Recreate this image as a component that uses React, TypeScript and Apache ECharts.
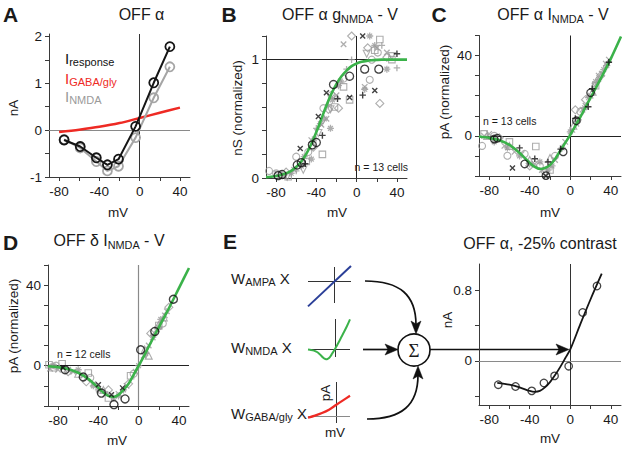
import React, { useEffect, useRef } from 'react';
import * as echarts from 'echarts';

const FONT = '"Liberation Sans", Arial, Helvetica, sans-serif';
const SERIF = '"Liberation Serif", "DejaVu Serif", serif';
const INK = '#1a1a1a';
const AX = '#3a3a3a';
const GRAY = '#9a9a9a';
const GREEN = '#3bb24a';
const RED = '#ee2a24';
const BLUE = '#2b3f98';

// ---------- Panel A: OFF alpha I-V ----------
const aVolt = [-75, -59, -43, -32, -21, -4, 14, 30];
const aResponse = [-0.21, -0.35, -0.59, -0.74, -0.62, 0.08, 1.01, 1.78];
const aNmda = [-0.2, -0.38, -0.67, -0.87, -0.77, -0.16, 0.69, 1.35];
const aGabaVolt = [-80, -60, -40, -20, 0, 20, 40];
const aGaba = [-0.04, 0.01, 0.07, 0.15, 0.26, 0.37, 0.48];

// ---------- Panel B: g_NMDA - V ----------
const bFitVolt = [-90, -85, -80, -75, -70, -65, -60, -55, -50, -45, -40, -35, -30, -25, -20, -15, -10, -5, 0, 5, 10, 15, 20, 25, 30, 35, 40, 45, 50];
const bFit = [0.007, 0.01, 0.017, 0.026, 0.04, 0.061, 0.093, 0.14, 0.204, 0.287, 0.388, 0.5, 0.612, 0.713, 0.796, 0.86, 0.907, 0.945, 0.968, 0.982, 0.99, 0.995, 0.998, 1, 1, 1, 1, 1, 1];
const bBlackCircle = [[-78, 0.02], [-74, 0.03], [-59, 0.11], [-55, 0.13], [-44, 0.28], [-40, 0.3], [-23, 0.79], [-7, 0.86], [8, 0.92], [22, 0.92]];
const bBlackX = [[-56, 0.25], [-38, 0.52], [-30, 0.72], [-7, 0.68], [6, 1.2], [18, 0.74]];
const bBlackPlus = [[-51, 0.12], [-34, 0.36], [-19, 0.67], [6, 0.7], [40, 1.05]];
const bGrayCircle = [[-87, 0.06], [-80, 0.04], [-60, 0.18], [-48, 0.22], [-33, 0.59], [-13, 0.84], [13, 0.83], [21, 1.06], [15, 1.0], [-25, 0.7]];
const bGrayDiamond = [[-5, 1.2], [23, 0.63], [-18, 0.59], [11, 1.1], [-43, 0.26], [-28, 0.58], [-70, 0.05], [30, 1.02]];
const bGraySquare = [[-34, 0.2], [23, 1.17], [-7, 0.66], [-68, 0.01], [-13, 0.77], [-50, 0.14], [-22, 0.6], [18, 1.08], [35, 1.0]];
const bGrayTriangle = [[-69, 0.01], [35, 1.03], [-53, 0.07], [-26, 0.58], [-78, 0.03], [-38, 0.38], [10, 1.05]];
const bGrayX = [[-13, 1.13], [30, 1.06], [8, 0.77], [-72, 0.02], [-45, 0.32], [-30, 0.5], [-20, 0.7], [20, 1.1], [-62, 0.07], [-35, 0.45], [-25, 0.68]];
const bGrayPlus = [[-5, 1.0], [40, 0.93], [-10, 0.92], [-60, 0.06], [-40, 0.42], [-28, 0.62], [25, 1.12]];
const bGrayStar = [[13, 1.2], [30, 0.92], [-26, 0.42], [-45, 0.16], [-36, 0.46], [-18, 0.78], [-65, 0.04], [8, 0.75], [18, 1.12], [-52, 0.18], [-55, 0.1], [-42, 0.33], [-32, 0.5], [-24, 0.66], [-16, 0.82]];

// ---------- Panel C: OFF alpha I_NMDA - V ----------
const cFitVolt = [-90, -80, -70, -60, -50, -45, -40, -35, -30, -25, -20, -15, -10, -5, 0, 5, 10, 20, 30, 40, 50];
const cFit = [-0.3, -1, -2.2, -4.5, -8.5, -11, -13.5, -15.5, -16.5, -16, -14.5, -11.5, -7.5, -3.5, 0.5, 5, 9.5, 19, 28.5, 38.5, 49.5];
const cBlackCircle = [[-72, -1.2], [-75, -1.6], [-45, -14], [-24, -19.8], [-7, -8], [6, 7.5], [20, 21.5]];
const cBlackPlus = [[-50, -6], [-35, -11.4], [-22, -13], [-9.5, -6.6], [5, 8.7], [17.7, 14.5], [21.6, 23.5], [38, 36.7]];
const cBlackX = [[-57, -16], [-24, -20]];
const cGrayCircle = [[-87, -5], [-62, -9.9], [-75, 0], [-45, -9], [-30, -15], [-15, -10], [10, 12]];
const cGraySquare = [[-34, -5.3], [-85, 1], [-60, -3], [-20, -17], [25, 25]];
const cGrayDiamond = [[5, 13], [-40, -15], [-25, -18], [-70, -1], [15, 18], [30, 30]];
const cGrayX = [[-80, 1], [-55, -8], [-35, -14], [-15, -12], [-5, -3], [12, 13], [28, 30], [35, 36], [-65, -5], [2, 3], [6, 6], [15, 15], [20, 20], [24, 25], [31, 31], [38, 38], [-85, 0], [-70, -2], [-48, -9], [-28, -17]];
const cGrayStar = [[-50, -10], [-30, -13], [-18, -15], [0, 2], [18, 19], [25, 27], [33, 33], [-75, -3], [8, 8], [-22, -17], [-40, -14], [-62, -6], [14, 14], [28, 28], [36, 35], [-8, -6]];
const cGrayTriangle = [[-60, -5], [-40, -12], [-20, -11], [3, 5], [22, 22], [-82, 0]];

// ---------- Panel D: OFF delta I_NMDA - V ----------
const dFitVolt = [-90, -80, -70, -60, -50, -45, -40, -35, -30, -25, -20, -15, -10, -5, 0, 5, 10, 20, 30, 40, 50];
const dFit = [-0.3, -0.7, -1.6, -3.5, -6.5, -8.7, -11, -13.3, -15, -15.5, -14.5, -12, -9, -4.5, 0, 4.5, 9.5, 19, 28.5, 38.5, 48.5];
const dBlackCircle = [[-73, -2], [-55, -5.6], [-37, -13.6], [-24.5, -19.3], [-13.5, -16.5], [2, 7.9], [16, 17], [34.5, 33]];
const dBlackX = [[-40, -9.4], [-27, -14.4], [-16, -11], [-75, -1]];
const dGraySquare = [[-89, 0.5], [-76, 1], [-50, -3.6], [-30, -16], [-8, -5], [20, 20], [-85, -1]];
const dGrayTriangle = [[6, 8], [19.5, 20], [-35, -12], [25, 24], [-60, -4], [10, 5]];
const dGrayX = [[-88, -1.5], [-65, -3], [-45, -9], [-20, -14], [-3, -3], [14, 14], [28, 27], [-80, -2], [5, 5], [10, 10], [18, 18], [26, 25], [-70, -2], [-55, -5], [-33, -14], [-12, -10]];
const dGrayDiamond = [[-70, -3], [-52, -8], [-30, -12], [12, 16], [30, 29], [-10, -9]];
const dGrayStar = [[-40, -12], [-25, -16], [-15, -12], [0, 0], [15, 15], [22, 23], [-60, -2], [7, 6], [20, 19], [-45, -10], [-20, -15], [-85, 0]];
const dGrayCircle = [[-82, 0], [-48, -6], [-5, -4], [24, 21]];

// ---------- Panel E ----------
const eFitVolt = [-72, -60, -50, -40, -35, -30, -25, -20, -15, -10, -5, 0, 10, 20, 31];
const eFit = [-0.25, -0.27, -0.3, -0.34, -0.35, -0.34, -0.3, -0.24, -0.16, -0.07, 0.03, 0.13, 0.42, 0.7, 0.99];
const eCellVolt = [-71, -54, -38, -26, -15.5, -1.6, 12.2, 26.3];
const eCell = [-0.27, -0.29, -0.34, -0.25, -0.17, -0.06, 0.55, 0.85];
const ampaVolt = [-62, 38];
const ampaCur = [-52, 32];

// tick / label values
const voltTicks = [-80, -60, -40, -20, 0, 20, 40];
const voltLabels = [-80, -40, 0, 40];
const aTicks = [-1, -0.5, 0, 0.5, 1, 1.5, 2];
const aLabels = [-1, 0, 1, 2];
const bTicks = [0, 0.2, 0.4, 0.6, 0.8, 1, 1.2];
const bLabels = [0, 1];
const pATicks = [-20, -10, 0, 10, 20, 30, 40, 50];
const pALabels = [0, 40];
const eTicks = [-0.4, 0, 0.4, 0.8];
const eLabels = [0, 0.8];

const pts = (xs: number[], ys: number[]) => xs.map((x, i) => [x, ys[i]]);

const X_PATH = 'path://M0,0L10,10M0,10L10,0';
const PLUS_PATH = 'path://M5,0L5,10M0,5L10,5';
const STAR_PATH = 'path://M5,0L5,10M0,5L10,5M1.6,1.6L8.4,8.4M1.6,8.4L8.4,1.6';

function mainX(gi: number, ticks: number[], labels: number[]) {
  return {
    type: 'value', gridIndex: gi, min: -90, max: 50,
    axisLine: { show: true, onZero: false, lineStyle: { color: AX, width: 1 } },
    axisTick: { show: true, length: 4, customValues: ticks, lineStyle: { color: AX } },
    axisLabel: { show: true, customValues: labels, color: INK, fontSize: 13.5, margin: 7, fontFamily: FONT },
    splitLine: { show: false },
  };
}
function mainY(gi: number, min: number, max: number, ticks: number[], labels: number[]) {
  return {
    type: 'value', gridIndex: gi, min, max,
    axisLine: { show: true, onZero: false, lineStyle: { color: AX, width: 1 } },
    axisTick: { show: true, length: 4, customValues: ticks, lineStyle: { color: AX } },
    axisLabel: { show: true, customValues: labels, color: INK, fontSize: 13.5, margin: 7, fontFamily: FONT },
    splitLine: { show: false },
  };
}
function hidden(gi: number, min: number, max: number) {
  return { type: 'value', gridIndex: gi, min, max, show: false, splitLine: { show: false } };
}
function zeroLines(items: any[]) {
  return { silent: true, symbol: ['none', 'none'], label: { show: false }, z: 1, animation: false, data: items };
}
function scat(gi: number, data: number[][], symbol: string, color: string, size: number, bw: number, z: number, rotate = 0, extra: any = {}) {
  return {
    type: 'scatter', xAxisIndex: gi, yAxisIndex: gi, data, symbol, symbolSize: size, symbolRotate: rotate,
    itemStyle: { color: 'rgba(0,0,0,0)', borderColor: color, borderWidth: bw }, z, silent: true, ...extra,
  };
}
function fitLine(gi: number, data: number[][], color: string, width: number, z: number, extra: any = {}) {
  return {
    type: 'line', xAxisIndex: gi, yAxisIndex: gi, data, smooth: 0.3, symbol: 'none', showSymbol: false,
    lineStyle: { color, width }, itemStyle: { color }, z, silent: true, ...extra,
  };
}

function txt(x: number, y: number, text: string, size: number, opts: any = {}) {
  const { fill = INK, align = 'center', weight = 'normal', rotation = 0, family = FONT, subSize = size * 0.68 } = opts;
  return {
    type: 'text', x, y, rotation, silent: true,
    style: {
      text, fill, align, verticalAlign: 'middle', fontSize: size, fontFamily: family, fontWeight: weight,
      lineHeight: size + 4,
      rich: { s: { fontSize: subSize, fontFamily: family, fill, verticalAlign: 'bottom', lineHeight: subSize + 1 } },
    },
  };
}
function head(points: number[][]) {
  return { type: 'polygon', silent: true, shape: { points }, style: { fill: '#111', stroke: '#111', lineWidth: 0.5 } };
}

const option: any = {
  animation: false,
  backgroundColor: '#ffffff',
  textStyle: { fontFamily: FONT },
  grid: [
    { left: 49, top: 34, width: 141, height: 143 },      // A
    { left: 266, top: 36, width: 141, height: 142 },     // B
    { left: 479, top: 35.5, width: 142, height: 140.5 }, // C
    { left: 48, top: 265, width: 141, height: 141 },     // D
    { left: 479, top: 264, width: 142, height: 141 },    // E
    { left: 308, top: 267, width: 43, height: 36 },      // AMPA mini
    { left: 308, top: 319, width: 42, height: 38 },      // NMDA mini
    { left: 308, top: 382, width: 42, height: 41 },      // GABA mini
  ],
  xAxis: [
    mainX(0, voltTicks, voltLabels),
    mainX(1, voltTicks, voltLabels),
    mainX(2, voltTicks, voltLabels),
    mainX(3, voltTicks, voltLabels),
    mainX(4, voltTicks, voltLabels),
    hidden(5, -62, 38),
    hidden(6, -90, 50),
    hidden(7, -80, 40),
  ],
  yAxis: [
    mainY(0, -1, 2.05, aTicks, aLabels),
    mainY(1, 0, 1.2, bTicks, bLabels),
    mainY(2, -20, 50, pATicks, pALabels),
    mainY(3, -20, 50, pATicks, pALabels),
    mainY(4, -0.5, 1.1, eTicks, eLabels),
    hidden(5, -45, 30),
    hidden(6, -12.7, 50),
    hidden(7, -0.165, 0.804),
  ],
  series: [
    // ----- A -----
    {
      type: 'line', xAxisIndex: 0, yAxisIndex: 0, data: pts(aGabaVolt, aGaba), smooth: 0.3, symbol: 'none',
      lineStyle: { color: RED, width: 2.5 }, itemStyle: { color: RED }, z: 3, silent: true,
      markLine: zeroLines([
        { xAxis: 0, lineStyle: { color: '#333', width: 1, type: 'solid' } },
        { yAxis: 0, lineStyle: { color: '#8a8a8a', width: 1.2, type: 'solid' } },
      ]),
    },
    {
      type: 'line', xAxisIndex: 0, yAxisIndex: 0, data: pts(aVolt, aNmda), symbol: 'circle', symbolSize: 9,
      lineStyle: { color: '#a5a5a5', width: 2 }, itemStyle: { color: 'rgba(255,255,255,0)', borderColor: '#a5a5a5', borderWidth: 1.8 }, z: 4, silent: true,
    },
    {
      type: 'line', xAxisIndex: 0, yAxisIndex: 0, data: pts(aVolt, aResponse), symbol: 'circle', symbolSize: 9,
      lineStyle: { color: '#151515', width: 2 }, itemStyle: { color: 'rgba(255,255,255,0)', borderColor: '#151515', borderWidth: 1.8 }, z: 5, silent: true,
    },
    // ----- B -----
    scat(1, bGrayCircle, 'circle', GRAY, 7, 1.1, 2, 0, {
      markLine: zeroLines([
        { xAxis: 0, lineStyle: { color: '#222', width: 1, type: 'solid' } },
        { yAxis: 1, lineStyle: { color: '#222', width: 1, type: 'solid' } },
      ]),
    }),
    scat(1, bGrayDiamond, 'diamond', GRAY, 8, 1.1, 2),
    scat(1, bGraySquare, 'rect', GRAY, 6.5, 1.1, 2),
    scat(1, bGrayTriangle, 'triangle', GRAY, 7, 1.1, 2, 180),
    scat(1, bGrayX, X_PATH, GRAY, 5.5, 1.3, 2),
    scat(1, bGrayPlus, PLUS_PATH, GRAY, 6.5, 1.3, 2),
    scat(1, bGrayStar, STAR_PATH, GRAY, 7, 1.3, 2),
    fitLine(1, pts(bFitVolt, bFit), GREEN, 2.6, 3),
    scat(1, bBlackCircle, 'circle', '#111', 8, 1.3, 4),
    scat(1, bBlackX, X_PATH, '#111', 5, 1.4, 4),
    scat(1, bBlackPlus, PLUS_PATH, '#111', 6.5, 1.4, 4),
    // ----- C -----
    scat(2, cGrayCircle, 'circle', GRAY, 7, 1.1, 2, 0, {
      markLine: zeroLines([
        { xAxis: 0, lineStyle: { color: '#222', width: 1, type: 'solid' } },
        { yAxis: 0, lineStyle: { color: '#222', width: 1, type: 'solid' } },
      ]),
    }),
    scat(2, cGraySquare, 'rect', GRAY, 6.5, 1.1, 2),
    scat(2, cGrayDiamond, 'diamond', GRAY, 8, 1.1, 2),
    scat(2, cGrayX, X_PATH, GRAY, 5.5, 1.3, 2),
    scat(2, cGrayStar, STAR_PATH, GRAY, 7, 1.3, 2),
    scat(2, cGrayTriangle, 'triangle', GRAY, 7, 1.1, 2),
    fitLine(2, pts(cFitVolt, cFit), GREEN, 2.6, 3),
    scat(2, cBlackCircle, 'circle', '#111', 7.5, 1.3, 4),
    scat(2, cBlackPlus, PLUS_PATH, '#111', 6.5, 1.4, 4),
    scat(2, cBlackX, X_PATH, '#111', 5, 1.4, 4),
    // ----- D -----
    scat(3, dGraySquare, 'rect', GRAY, 6.5, 1.1, 2, 0, {
      markLine: zeroLines([
        { xAxis: 0, lineStyle: { color: '#8a8a8a', width: 1.2, type: 'solid' } },
        { yAxis: 0, lineStyle: { color: '#222', width: 1, type: 'solid' } },
      ]),
    }),
    scat(3, dGrayTriangle, 'triangle', GRAY, 7, 1.1, 2),
    scat(3, dGrayX, X_PATH, GRAY, 5.5, 1.3, 2),
    scat(3, dGrayDiamond, 'diamond', GRAY, 8, 1.1, 2),
    scat(3, dGrayStar, STAR_PATH, GRAY, 7, 1.3, 2),
    scat(3, dGrayCircle, 'circle', GRAY, 7, 1.1, 2),
    fitLine(3, pts(dFitVolt, dFit), GREEN, 2.6, 3),
    scat(3, dBlackCircle, 'circle', '#111', 8, 1.4, 4),
    scat(3, dBlackX, X_PATH, '#111', 5, 1.4, 4),
    // ----- E right -----
    fitLine(4, pts(eFitVolt, eFit), '#151515', 1.8, 3, {
      markLine: zeroLines([
        { xAxis: 0, lineStyle: { color: '#333', width: 1, type: 'solid' } },
        { yAxis: 0, lineStyle: { color: '#8a8a8a', width: 1, type: 'solid' } },
      ]),
    }),
    scat(4, pts(eCellVolt, eCell), 'circle', '#151515', 7.5, 1.3, 4),
    // ----- E minis -----
    fitLine(5, pts(ampaVolt, ampaCur), BLUE, 2, 3, {
      smooth: false, clip: false,
      markLine: zeroLines([
        { xAxis: 0, lineStyle: { color: '#333', width: 1, type: 'solid' } },
        { yAxis: 0, lineStyle: { color: '#333', width: 1, type: 'solid' } },
      ]),
    }),
    fitLine(6, pts(cFitVolt, cFit), GREEN, 2, 3, {
      clip: false,
      markLine: zeroLines([
        { xAxis: 0, lineStyle: { color: '#333', width: 1, type: 'solid' } },
        { yAxis: 0, lineStyle: { color: '#333', width: 1, type: 'solid' } },
      ]),
    }),
    fitLine(7, pts(aGabaVolt, aGaba), RED, 2.2, 3, {
      clip: false,
      markLine: zeroLines([
        { xAxis: 0, lineStyle: { color: '#333', width: 1, type: 'solid' } },
        { yAxis: 0, lineStyle: { color: '#8a8a8a', width: 1.2, type: 'solid' } },
      ]),
    }),
  ],
  graphic: [
    // panel letters
    txt(10.5, 14.5, 'A', 21, { weight: 'bold' }),
    txt(229, 14.5, 'B', 21, { weight: 'bold' }),
    txt(439, 14.5, 'C', 21, { weight: 'bold' }),
    txt(10.5, 242, 'D', 21, { weight: 'bold' }),
    txt(230, 241, 'E', 21, { weight: 'bold' }),
    // titles
    txt(141.5, 14, 'OFF α', 16),
    txt(340, 14, 'OFF α g{s|NMDA} - V', 16),
    txt(553, 14, 'OFF α I{s|NMDA} - V', 16),
    txt(109, 240, 'OFF δ I{s|NMDA} - V', 16),
    txt(540, 243, 'OFF α, -25% contrast', 16),
    // axis names
    txt(13, 108, 'nA', 13.5, { rotation: Math.PI / 2 }),
    txt(118, 212, 'mV', 13.5),
    txt(237, 108, 'nS (normalized)', 13.5, { rotation: Math.PI / 2 }),
    txt(337, 212, 'mV', 13.5),
    txt(444, 92, 'pA (normalized)', 13.5, { rotation: Math.PI / 2 }),
    txt(550, 212, 'mV', 13.5),
    txt(13, 326, 'pA (normalized)', 13.5, { rotation: Math.PI / 2 }),
    txt(117, 440, 'mV', 13.5),
    txt(447, 320, 'nA', 13.5, { rotation: Math.PI / 2 }),
    txt(550, 438, 'mV', 13.5),
    // A legend
    txt(65, 58, 'I{s|response}', 15, { align: 'left', fill: '#111', subSize: 11 }),
    txt(65, 78, 'I{s|GABA/gly}', 15, { align: 'left', fill: RED, subSize: 11 }),
    txt(65, 96, 'I{s|NMDA}', 15, { align: 'left', fill: GRAY, subSize: 11 }),
    // n = cells
    txt(408, 167, 'n = 13 cells', 10.5, { align: 'right' }),
    txt(483, 121, 'n = 13 cells', 10.5, { align: 'left' }),
    txt(57, 354, 'n = 12 cells', 10.5, { align: 'left' }),
    // E left labels
    txt(231, 278, 'W{s|AMPA} X', 15, { align: 'left', subSize: 11 }),
    txt(231, 347, 'W{s|NMDA} X', 15, { align: 'left', subSize: 11 }),
    txt(231, 413, 'W{s|GABA/gly} X', 15, { align: 'left', subSize: 11 }),
    txt(325, 393, 'pA', 13.5, { rotation: Math.PI / 2 }),
    txt(335, 432, 'mV', 13.5),
    // arrows
    { type: 'bezierCurve', silent: true, shape: { x1: 365, y1: 281, cpx1: 400, cpy1: 281, cpx2: 416, cpy2: 295, x2: 416, y2: 325 }, style: { stroke: '#111', lineWidth: 1.7, fill: 'none' } },
    head([[416, 334], [411, 321], [416, 324], [421, 321]]),
    { type: 'bezierCurve', silent: true, shape: { x1: 367, y1: 419, cpx1: 402, cpy1: 419, cpx2: 418, cpy2: 405, x2: 418, y2: 375 }, style: { stroke: '#111', lineWidth: 1.7, fill: 'none' } },
    head([[418, 366], [413, 379], [418, 376], [423, 379]]),
    { type: 'line', silent: true, shape: { x1: 363, y1: 349.5, x2: 390, y2: 349.5 }, style: { stroke: '#111', lineWidth: 1.7 } },
    head([[398, 349.5], [385, 344], [388, 349.5], [385, 355]]),
    { type: 'line', silent: true, shape: { x1: 430, y1: 349.5, x2: 560, y2: 349.5 }, style: { stroke: '#111', lineWidth: 1.7 } },
    head([[569, 349.5], [556, 344], [559, 349.5], [556, 355]]),
    // sigma
    { type: 'circle', silent: true, shape: { cx: 414, cy: 350, r: 16 }, style: { fill: '#fff', stroke: '#111', lineWidth: 1.6 } },
    txt(414, 350, 'Σ', 19, { family: SERIF }),
  ],
};

export default function App() {
  const ref = useRef<HTMLDivElement>(null);
  useEffect(() => {
    if (!ref.current) return;
    const chart = echarts.init(ref.current, null, { renderer: 'svg' });
    chart.setOption(option);
    return () => chart.dispose();
  }, []);
  return <div ref={ref} style={{ position: 'absolute', left: 0, top: 0, width: 625, height: 449, background: '#fff' }} />;
}
